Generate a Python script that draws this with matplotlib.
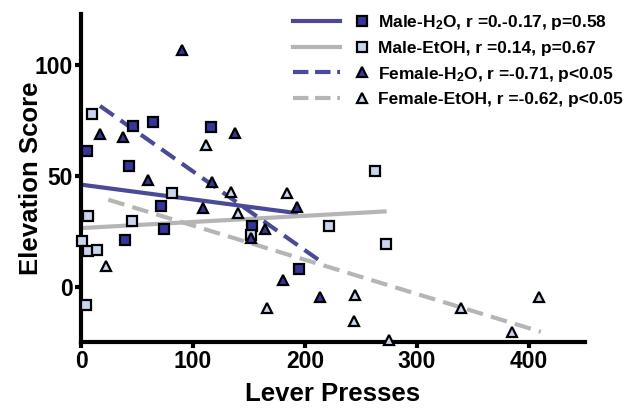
import matplotlib
matplotlib.use("Agg")
import matplotlib.pyplot as plt
from matplotlib.lines import Line2D
from matplotlib.legend_handler import HandlerBase

plt.rcParams['font.family'] = ['Liberation Sans', 'DejaVu Sans']
plt.rcParams['font.weight'] = 'bold'
plt.rcParams['mathtext.fontset'] = 'custom'
plt.rcParams['mathtext.rm'] = 'Liberation Sans:bold'
plt.rcParams['mathtext.bf'] = 'Liberation Sans:bold'
plt.rcParams['mathtext.it'] = 'Liberation Sans:bold'
plt.rcParams['mathtext.default'] = 'regular'

# ---- data ----
male_h2o_x = [5.7, 43, 46.8, 64.1, 116.3, 71.6, 74.5, 39.4, 152.7, 195]
male_h2o_y = [61, 54.6, 72.5, 74.2, 72.2, 36.3, 26, 21.2, 27.3, 8]

male_etoh_x = [9.5, 6.5, 45.9, 81, 0.6, 6, 14.6, 4.2, 262.4, 221, 272.5, 152]
male_etoh_y = [77.8, 32, 29.4, 42.2, 20.7, 15.9, 16.7, -8.1, 52.3, 27.2, 19.4, 23.5]

female_h2o_x = [17, 37.9, 90, 137.7, 59.6, 108.9, 116.9, 151.8, 164.6, 193, 180, 213]
female_h2o_y = [68.8, 67.7, 106.8, 69.2, 48.2, 35.4, 47.4, 21.9, 25.9, 35.9, 3.2, -4.6]

female_etoh_x = [111.8, 133.5, 139.8, 22, 166, 184, 244.5, 244.2, 274.9, 339.6, 384.6, 409]
female_etoh_y = [64, 42.7, 33.2, 9.5, -9.5, 42.2, -3.6, -15.6, -24, -9.6, -20.4, -4.8]

# regression line end points (x, y)
fit_male_h2o_x = [0, 192]
fit_male_h2o_y = [46, 33.2]
fit_male_etoh_x = [0, 271]
fit_male_etoh_y = [26.4, 33.9]
fit_female_h2o_x = [17, 214]
fit_female_h2o_y = [81.5, 11.4]
fit_female_etoh_x = [24.4, 410.6]
fit_female_etoh_y = [39.2, -20.4]

labels = [r'Male-H$_2$O, r =0.-0.17, p=0.58',
          'Male-EtOH, r =0.14, p=0.67',
          r'Female-H$_2$O, r =-0.71, p<0.05',
          'Female-EtOH, r =-0.62, p<0.05']

x_ticks = [0, 100, 200, 300, 400]
y_ticks = [0, 50, 100]

# ---- style ----
DARK_FILL = '#35359a'
DARK_LINE = '#4a4a98'
LIGHT_FILL = '#c9d5ee'
GRAY_LINE = '#b5b5b5'
DASH = (0, (4, 2))

fig = plt.figure(figsize=(6.29, 4.09), dpi=100)
ax = fig.add_axes([0.1288, 0.1638, 0.8012, 0.802])

lw = 3
l1, = ax.plot(fit_male_h2o_x, fit_male_h2o_y, color=DARK_LINE, lw=lw, zorder=2)
l2, = ax.plot(fit_male_etoh_x, fit_male_etoh_y, color=GRAY_LINE, lw=lw, zorder=2)
l3, = ax.plot(fit_female_h2o_x, fit_female_h2o_y, color=DARK_LINE, lw=lw, ls=DASH, zorder=2)
l4, = ax.plot(fit_female_etoh_x, fit_female_etoh_y, color=GRAY_LINE, lw=lw, ls=DASH, zorder=2)

mk = dict(ls='none', mec='black', mew=1.6, clip_on=False, zorder=3)
m1, = ax.plot(male_h2o_x, male_h2o_y, marker='s', ms=6.5, mfc=DARK_FILL, **mk)
m2, = ax.plot(male_etoh_x, male_etoh_y, marker='s', ms=6.5, mfc=LIGHT_FILL, **mk)
m3, = ax.plot(female_h2o_x, female_h2o_y, marker='^', ms=7.5, mfc=DARK_FILL, **mk)
m4, = ax.plot(female_etoh_x, female_etoh_y, marker='^', ms=7.5, mfc=LIGHT_FILL, **mk)

ax.set_xlim(0, 450)
ax.set_ylim(-25, 123)
ax.set_xticks(x_ticks)
ax.set_yticks(y_ticks)
ax.spines['top'].set_visible(False)
ax.spines['right'].set_visible(False)
for s in ['left', 'bottom']:
    ax.spines[s].set_linewidth(3)
ax.tick_params(axis='both', which='major', length=4, width=3, labelsize=16.5, pad=2)
for t in ax.get_xticklabels() + ax.get_yticklabels():
    t.set_fontweight('bold')
ax.set_xlabel('Lever Presses', fontsize=18.5, fontweight='bold', labelpad=6)
ax.set_ylabel('Elevation Score', fontsize=18.5, fontweight='bold')
ax.yaxis.set_label_coords(-0.075, 0.5)


class LineThenMarker(HandlerBase):
    def create_artists(self, legend, orig_handle, xdescent, ydescent,
                       width, height, fontsize, trans):
        line, marker = orig_handle
        y = height / 2 - ydescent
        x0 = -xdescent
        ln = Line2D([x0, x0 + width * 0.64], [y, y], color=line.get_color(),
                    lw=line.get_linewidth(), ls=line.get_linestyle())
        mm = Line2D([x0 + width * 0.93], [y], marker=marker.get_marker(),
                    ms=marker.get_markersize() * 1.05, mfc=marker.get_markerfacecolor(),
                    mec='black', mew=1.6, ls='none')
        ln.set_transform(trans)
        mm.set_transform(trans)
        return [ln, mm]


leg = fig.legend([(l1, m1), (l2, m2), (l3, m3), (l4, m4)], labels,
                 handler_map={tuple: LineThenMarker()},
                 loc='upper left', bbox_to_anchor=(293 / 629, 1 - 13 / 409),
                 frameon=False, borderpad=0, borderaxespad=0,
                 handlelength=4.25, handletextpad=0.62, labelspacing=0.5,
                 prop={'size': 12.5, 'weight': 'bold'})

fig.savefig('out.png', dpi=100)
